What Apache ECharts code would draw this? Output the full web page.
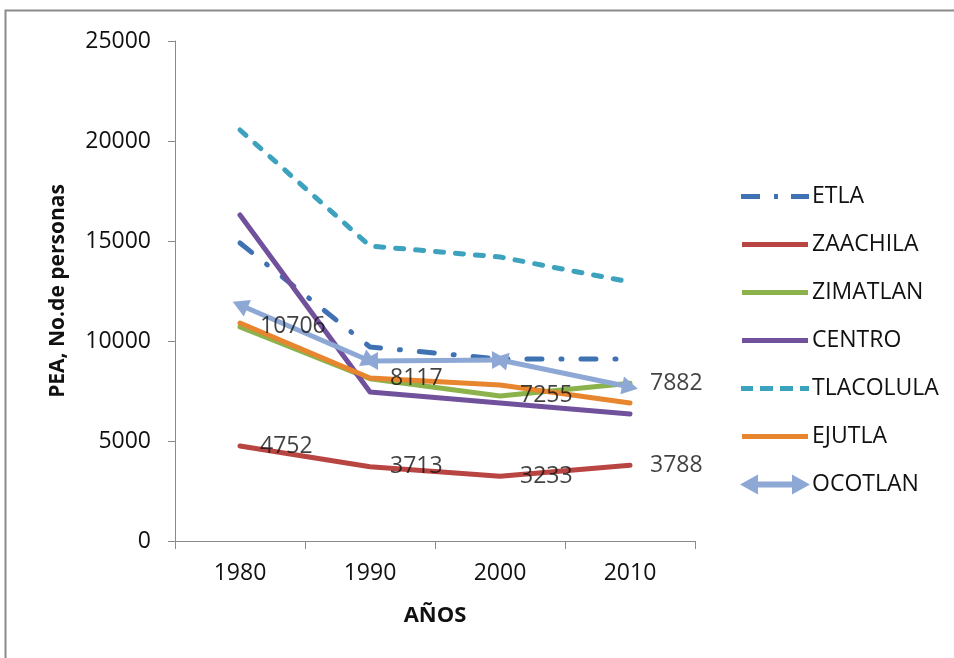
<!DOCTYPE html>
<html><head><meta charset="utf-8">
<script src="https://cdn.jsdelivr.net/npm/echarts@6/dist/echarts.min.js"></script>
<style>html,body{margin:0;padding:0;background:#fff}#c{width:954px;height:658px}</style>
</head><body><div id="c"></div>
<script>
const years = ['1980', '1990', '2000', '2010'];
const seriesNames = ['ETLA', 'ZAACHILA', 'ZIMATLAN', 'CENTRO', 'TLACOLULA', 'EJUTLA', 'OCOTLAN'];
const etla = [14900, 9700, 9100, 9100];
const zaachila = [4752, 3713, 3233, 3788];
const zimatlan = [10706, 8117, 7255, 7882];
const centro = [16300, 7450, 6900, 6350];
const tlacolula = [20550, 14750, 14200, 12950];
const ejutla = [10900, 8150, 7800, 6900];
const ocotlan = [11800, 9000, 9050, 7700];

const FONT = 'Open Sans';
const colors = {
  ETLA: '#3F72B3', ZAACHILA: '#B94543', ZIMATLAN: '#8CB24B', CENTRO: '#71519C',
  TLACOLULA: '#3DA2BE', EJUTLA: '#E8852F', OCOTLAN: '#8EA8D6'
};

// legend icon shapes (70 x 20 box, degenerate corner points fix the box)
const BOX = 'M0,0L0.01,0Z M70,20L69.99,20Z ';
const ICON_SOLID = 'path://' + BOX + 'M2,7.5H68V12.5H2Z';
const ICON_DASHDOT = 'path://' + BOX + 'M1,7.5H20V12.5H1Z M34,7.5H38V12.5H34Z M51,7.5H69V12.5H51Z';
const ICON_DASH = 'path://' + BOX + 'M1,7.5H13V12.5H1Z M20,7.5H33V12.5H20Z M40,7.5H53V12.5H40Z M60,7.5H69V12.5H60Z';
const ICON_ARROWS = 'path://M0,10 L18,0 L18,7 L52,7 L52,0 L70,10 L52,20 L52,13 L18,13 L18,20 Z';
const legendIcons = {
  ETLA: ICON_DASHDOT, ZAACHILA: ICON_SOLID, ZIMATLAN: ICON_SOLID, CENTRO: ICON_SOLID,
  TLACOLULA: ICON_DASH, EJUTLA: ICON_SOLID, OCOTLAN: ICON_ARROWS
};

function lineSeries(name, data, type, z) {
  return {
    name: name, type: 'line', data: data, symbol: 'none', showSymbol: false, z: z || 2,
    color: colors[name],
    itemStyle: { color: colors[name] },
    lineStyle: { width: 5, type: type || 'solid', cap: 'round', join: 'round', color: colors[name] },
    animation: false
  };
}
function labelSeries(data) {
  return {
    type: 'scatter', data: data, symbolSize: 0, z: 10, silent: true,
    label: { show: true, position: 'right', distance: 20, color: '#111', fontFamily: FONT, fontSize: 23,
      formatter: p => String(p.value) },
    animation: false
  };
}
const ocSegs = [];
for (let i = 0; i < years.length - 1; i++) {
  ocSegs.push([{ coord: [years[i], ocotlan[i]] }, { coord: [years[i + 1], ocotlan[i + 1]] }]);
}

const chart = echarts.init(document.getElementById('c'), null, { renderer: 'canvas' });
chart.setOption({
  animation: false,
  backgroundColor: '#fff',
  textStyle: { fontFamily: FONT },
  graphic: [{ type: 'rect', shape: { x: 5.5, y: 10.5, width: 1000, height: 700 },
    style: { fill: 'none', stroke: '#8a8a8a', lineWidth: 2 }, silent: true, z: 100 }],
  grid: { left: 175, right: 259, top: 41, bottom: 117, containLabel: false },
  legend: {
    orient: 'vertical', left: 735, top: 180,
    itemWidth: 70, itemHeight: 20, itemGap: 25,
    itemStyle: { borderWidth: 0 },
    textStyle: { fontFamily: FONT, fontSize: 23, color: '#111', lineHeight: 20, padding: [0, 0, 0, -3] },
    data: seriesNames.map(n => ({ name: n, icon: legendIcons[n] })),
    selectedMode: false
  },
  xAxis: {
    type: 'category', data: years, boundaryGap: true,
    name: 'AÑOS', nameLocation: 'middle', nameGap: 64,
    nameTextStyle: { fontFamily: FONT, fontSize: 22, fontWeight: 'bold', color: '#111' },
    axisLine: { lineStyle: { color: '#8a8a8a', width: 1 } },
    axisTick: { show: true, length: 8, lineStyle: { color: '#8a8a8a' } },
    axisLabel: { fontFamily: FONT, fontSize: 23, color: '#111', margin: 21 },
    splitLine: { show: false }
  },
  yAxis: {
    type: 'value', min: 0, max: 25000, interval: 5000,
    name: 'PEA, No.de personas', nameLocation: 'middle', nameGap: 106, nameRotate: 90,
    nameTextStyle: { fontFamily: FONT, fontSize: 21, fontWeight: 'bold', color: '#111' },
    axisLine: { show: true, lineStyle: { color: '#8a8a8a', width: 1 } },
    axisTick: { show: true, length: 7, lineStyle: { color: '#8a8a8a' } },
    axisLabel: { fontFamily: FONT, fontSize: 23, color: '#111', margin: 24, formatter: v => String(v) },
    splitLine: { show: false }
  },
  series: [
    lineSeries('ETLA', etla, [15, 19, 1, 19]),
    lineSeries('ZAACHILA', zaachila),
    lineSeries('ZIMATLAN', zimatlan),
    lineSeries('CENTRO', centro),
    lineSeries('TLACOLULA', tlacolula, [8, 12]),
    lineSeries('EJUTLA', ejutla),
    {
      name: 'OCOTLAN', type: 'line', data: ocotlan, symbol: 'none', z: 3,
      color: colors.OCOTLAN,
      itemStyle: { color: colors.OCOTLAN },
      lineStyle: { width: 0, opacity: 0 },
      markLine: {
        silent: true, animation: false,
        symbol: ['triangle', 'triangle'], symbolSize: [18, 16],
        label: { show: false },
        lineStyle: { color: colors.OCOTLAN, width: 5, type: 'solid', opacity: 1 },
        emphasis: { disabled: true },
        data: ocSegs
      },
      animation: false
    },
    labelSeries(zaachila),
    labelSeries(zimatlan)
  ]
});
</script></body></html>
